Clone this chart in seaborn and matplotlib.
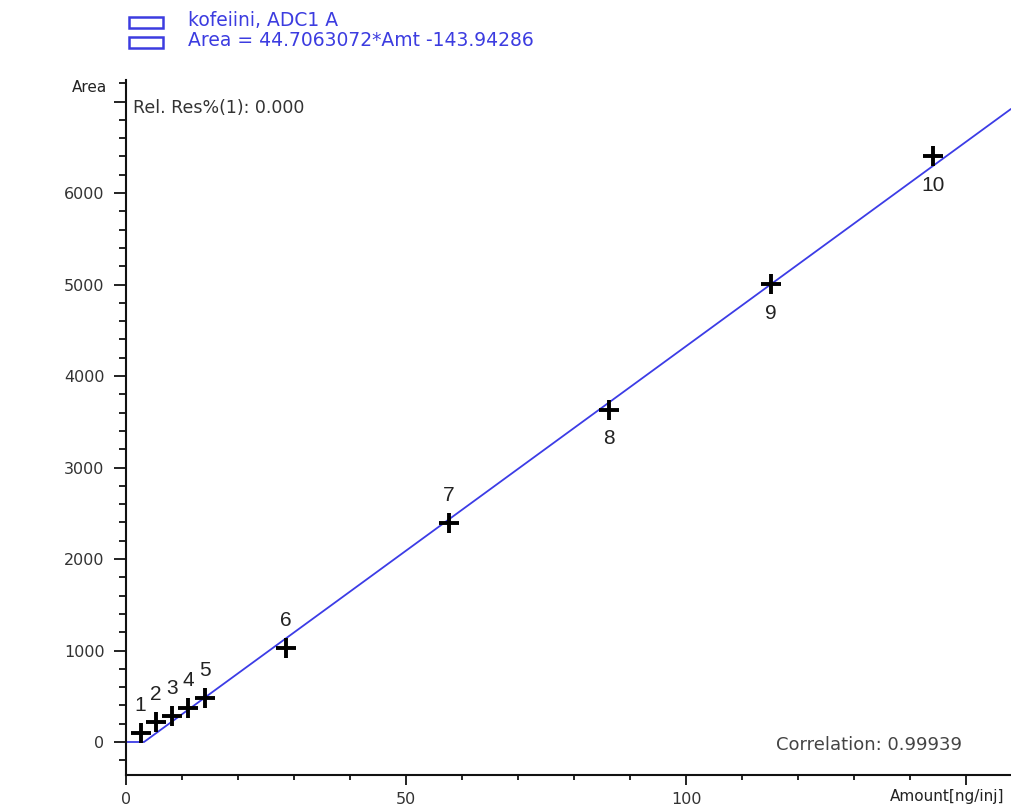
import matplotlib
matplotlib.use("Agg")
import matplotlib.pyplot as plt
import seaborn as sns
import numpy as np
import pandas as pd
from matplotlib.ticker import MultipleLocator, FixedLocator
from matplotlib.patches import Rectangle

# Data
levels = ["1", "2", "3", "4", "5", "6", "7", "8", "9", "10"]
amounts = [2.6, 5.3, 8.2, 11.1, 14.1, 28.6, 57.6, 86.3, 115.2, 144.1]
areas = [100, 215, 280, 370, 480, 1030, 2390, 3630, 5005, 6400]
label_above = [True, True, True, True, True, True, True, False, False, False]

slope = 44.7063072
intercept = -143.94286
correlation = "0.99939"
line_x = [0.0, 3.22, 158.0]
line_y = [max(0.0, slope * v + intercept) for v in line_x]

y_ticks = [0, 1000, 2000, 3000, 4000, 5000, 6000, 7000]
y_labels = ["0", "1000", "2000", "3000", "4000", "5000", "6000", ""]
x_ticks = [0, 50, 100, 150]
x_labels = ["0", "50", "100", ""]

sns.set_theme(style="white")
plt.rcParams["font.family"] = ["DejaVu Sans"]

fig = plt.figure(figsize=(10.11, 8.09), dpi=100)
ax = fig.add_axes([0.1246, 0.042, 0.8754, 0.859])

pts = pd.DataFrame({"Amount": amounts, "Area": areas, "Level": levels})
ln = pd.DataFrame({"Amount": line_x, "Area": line_y})

sns.lineplot(data=ln, x="Amount", y="Area", ax=ax, color="#3c3ce6", lw=1.3, sort=False)
sns.scatterplot(data=pts, x="Amount", y="Area", ax=ax, marker="+", s=200,
                color="black", linewidth=2.8, zorder=5)

for a, v, lab, up in zip(amounts, areas, levels, label_above):
    if up:
        ax.annotate(lab, (a, v), xytext=(0, 13), textcoords="offset points",
                    ha="center", va="bottom", fontsize=15, color="#222222",
                    family="Liberation Sans")
    else:
        ax.annotate(lab, (a, v), xytext=(0, -14), textcoords="offset points",
                    ha="center", va="top", fontsize=15, color="#222222",
                    family="Liberation Sans")

ax.set_xlim(0, 158.0)
ax.set_ylim(-361, 7235)
ax.set_xlabel("")
ax.set_ylabel("")

for s in ["top", "right"]:
    ax.spines[s].set_visible(False)
for s in ["left", "bottom"]:
    ax.spines[s].set_color("#111111")
    ax.spines[s].set_linewidth(1.5)

ax.yaxis.set_major_locator(FixedLocator(y_ticks))
ax.set_yticklabels(y_labels)
ax.yaxis.set_minor_locator(MultipleLocator(200))
ax.xaxis.set_major_locator(FixedLocator(x_ticks))
ax.set_xticklabels(x_labels)
ax.xaxis.set_minor_locator(MultipleLocator(10))
ax.tick_params(axis="y", which="major", direction="out", length=8.5, width=1.3,
               labelsize=11.5, colors="#111111", labelcolor="#333333", pad=7, left=True)
ax.tick_params(axis="y", which="minor", direction="out", length=5, width=1.3,
               colors="#111111", left=True)
ax.tick_params(axis="x", which="major", direction="out", length=7, width=1.3,
               labelsize=11.5, colors="#111111", labelcolor="#333333", pad=5, bottom=True)
ax.tick_params(axis="x", which="minor", direction="out", length=3.5, width=1.3,
               colors="#111111", bottom=True)
ax.grid(False)

fig.text(107 / 1011, 1 - 88 / 809, "Area", ha="right", va="center",
         fontsize=11, color="#222222")
fig.text(890 / 1011, 1 - 797 / 809, "Amount[ng/inj]", ha="left", va="center",
         fontsize=11, color="#222222")
fig.text(133 / 1011, 1 - 108 / 809, "Rel. Res%(1): 0.000", ha="left", va="center",
         fontsize=12.5, color="#333333")
fig.text(776 / 1011, 1 - 745 / 809, "Correlation: " + correlation, ha="left",
         va="center", fontsize=13, color="#444444")

# legend-like header
blue = "#3c3ce0"
for ytop, yc, txt in [(17, 21, "kofeiini, ADC1 A"),
                      (37, 41, "Area = %.7f*Amt %.5f" % (slope, intercept))]:
    fig.patches.append(Rectangle((129 / 1011, 1 - (ytop + 11) / 809), 34 / 1011, 11 / 809,
                                 transform=fig.transFigure, fill=False,
                                 edgecolor=blue, lw=1.8))
    fig.text(188 / 1011, 1 - yc / 809, txt, ha="left", va="center",
             fontsize=13.5, color=blue)

fig.savefig("out.png", dpi=100)
